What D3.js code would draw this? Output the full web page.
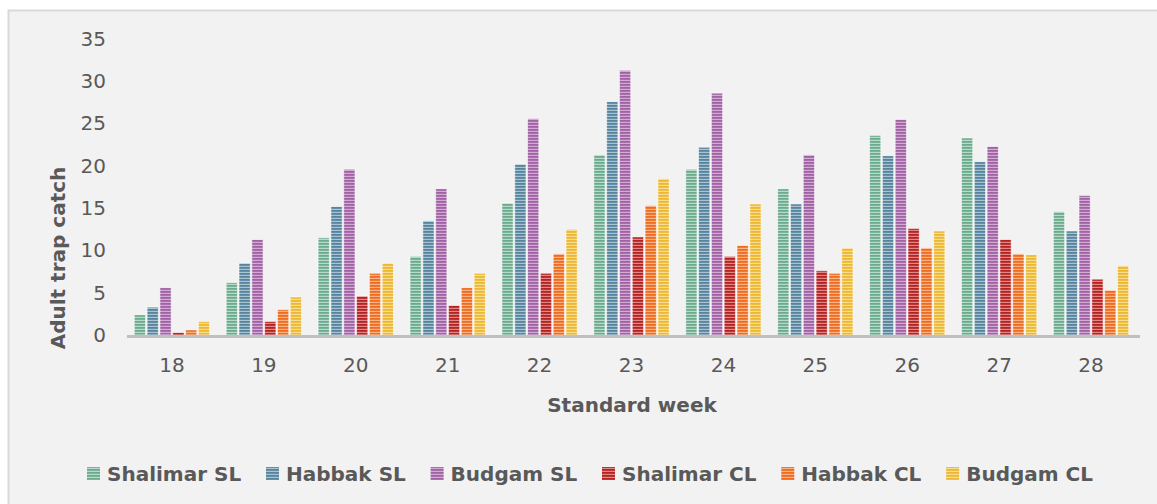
<!DOCTYPE html>
<html><head><meta charset="utf-8">
<script src="https://cdn.jsdelivr.net/npm/d3@7"></script>
<style>html,body{margin:0;padding:0;background:#fff;}svg{display:block;}</style>
</head><body>
<svg id="c" width="1157" height="504"></svg>
<script>
const weeks = ["18","19","20","21","22","23","24","25","26","27","28"];
const seriesNames = ["Shalimar SL","Habbak SL","Budgam SL","Shalimar CL","Habbak CL","Budgam CL"];
const shalimarSL = [2.4, 6.2, 11.5, 9.3, 15.6, 21.3, 19.6, 17.3, 23.6, 23.3, 14.6];
const habbakSL   = [3.3, 8.5, 15.2, 13.5, 20.2, 27.6, 22.2, 15.5, 21.2, 20.5, 12.3];
const budgamSL   = [5.6, 11.3, 19.6, 17.3, 25.6, 31.3, 28.6, 21.3, 25.5, 22.3, 16.5];
const shalimarCL = [0.3, 1.6, 4.6, 3.5, 7.3, 11.6, 9.3, 7.6, 12.6, 11.3, 6.6];
const habbakCL   = [0.6, 3.0, 7.3, 5.6, 9.6, 15.3, 10.6, 7.3, 10.3, 9.6, 5.3];
const budgamCL   = [1.6, 4.5, 8.5, 7.3, 12.5, 18.5, 15.5, 10.3, 12.3, 9.5, 8.2];
const yTicks = [0,5,10,15,20,25,30,35];

const seriesValues = [shalimarSL, habbakSL, budgamSL, shalimarCL, habbakCL, budgamCL];
const darkCols  = ["#6aab8d","#55849e","#a062a4","#b52222","#ef6c1e","#edb731"];
const lightCols = ["#b9d9ca","#abc3d0","#d2abd3","#df8888","#f8b288","#f7dc93"];

const svg = d3.select("#c");
const defs = svg.append("defs");
seriesNames.forEach((s,i)=>{
  const p = defs.append("pattern").attr("id","pat"+i).attr("patternUnits","userSpaceOnUse")
    .attr("width",4).attr("height",3);
  p.append("rect").attr("width",4).attr("height",3).attr("fill",lightCols[i]);
  p.append("rect").attr("width",4).attr("height",1.8).attr("y",0).attr("fill",darkCols[i]);
});

// panel
svg.append("rect").attr("x",8.5).attr("y",10.5).attr("width",1160).attr("height",520)
  .attr("fill","#f2f2f2").attr("stroke","#d9d9d9").attr("stroke-width",2);

const x0 = d3.scaleBand().domain(weeks).range([126,1137]).paddingInner(0.18).paddingOuter(0.09);
const x1 = d3.scaleBand().domain(seriesNames).range([0,x0.bandwidth()]).paddingInner(0.12);
const y = d3.scaleLinear().domain([0,35]).range([335,39]);

const data = [];
weeks.forEach((w,wi)=>seriesNames.forEach((s,si)=>data.push({w,s,si,v:seriesValues[si][wi]})));

svg.append("g").selectAll("rect").data(data).join("rect")
  .attr("x",d=>x0(d.w)+x1(d.s))
  .attr("width",x1.bandwidth())
  .attr("y",d=>y(d.v))
  .attr("height",d=>y(0)-y(d.v))
  .attr("fill",d=>"url(#pat"+d.si+")")
  .attr("stroke","#ffffff").attr("stroke-opacity",0.55).attr("stroke-width",1);

// x axis line
svg.append("line").attr("x1",127).attr("x2",1140).attr("y1",336.5).attr("y2",336.5)
  .attr("stroke","#bfbfbf").attr("stroke-width",3);

const font = "'DejaVu Sans', sans-serif";
// y axis labels
const yAxis = d3.axisLeft(y).tickValues(yTicks).tickSize(0).tickPadding(0);
const gy = svg.append("g").attr("transform","translate(106,0)").call(yAxis);
gy.select(".domain").remove();
gy.selectAll("text").attr("font-family",font).attr("font-size",20).attr("fill","#595959");

// x axis labels
const xAxis = d3.axisBottom(x0).tickSize(0).tickPadding(0);
const gx = svg.append("g").attr("transform","translate(0,358)").call(xAxis);
gx.select(".domain").remove();
gx.selectAll("text").attr("font-family",font).attr("font-size",20).attr("fill","#595959");

// axis titles
svg.append("text").attr("x",632).attr("y",412).attr("text-anchor","middle")
  .attr("font-family",font).attr("font-weight","bold").attr("font-size",20).attr("fill","#595959")
  .text("Standard week");
svg.append("text").attr("transform","translate(65,258) rotate(-90)").attr("text-anchor","middle")
  .attr("font-family",font).attr("font-weight","bold").attr("font-size",20).attr("fill","#595959")
  .text("Adult trap catch");

// legend
const lg = svg.append("g");
const items = lg.selectAll("g").data(seriesNames).join("g");
items.append("rect").attr("width",13).attr("height",13).attr("y",-14)
  .attr("fill",(d,i)=>"url(#pat"+i+")");
items.append("text").attr("x",20).attr("y",0)
  .attr("font-family",font).attr("font-weight","bold").attr("font-size",20).attr("fill","#595959")
  .text(d=>d);
let widths = [];
items.each(function(){ widths.push(20 + this.querySelector("text").getComputedTextLength()); });
const legLeft = 87, legRight = 1093;
const gap = (legRight - legLeft - d3.sum(widths)) / (widths.length-1);
let cx = legLeft;
items.attr("transform",(d,i)=>{ const t = `translate(${cx},481)`; cx += widths[i]+gap; return t; });
</script>
</body></html>
